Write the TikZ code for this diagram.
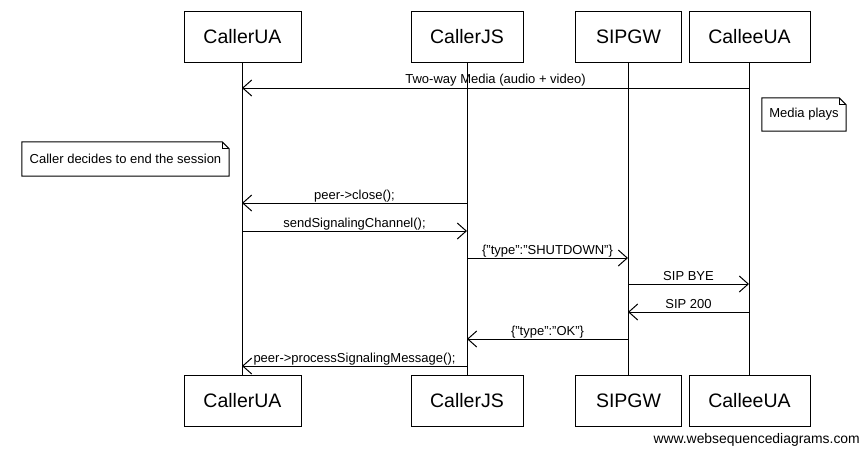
\documentclass[tikz,border=0pt]{standalone}
\usepackage{fontspec}
\setmainfont{Liberation Sans}
\usetikzlibrary{arrows.meta}
\tikzset{
  x=1pt, y=-1pt,
  pbox/.style={draw, line width=1pt, minimum height=51pt, inner sep=0pt,
    font=\fontsize{19.5}{23}\selectfont},
  life/.style={line width=1pt},
  msg/.style={line width=1pt, -{Straight Barb[length=9pt,width=16pt]}},
  lbl/.style={anchor=base, yshift=4pt, inner sep=0pt, font=\fontsize{13}{15}\selectfont},
  notetext/.style={inner sep=0pt, font=\fontsize{13}{15}\selectfont},
  notebox/.style={line width=1pt},
}
\begin{document}
\begin{tikzpicture}
\useasboundingbox[fill=white] (0,0) rectangle (865,448);
% participants top
\node[pbox, minimum width=117pt] (uaT) at (242.5,36.5) {CallerUA};
\node[pbox, minimum width=112pt] (jsT) at (467,36.5) {CallerJS};
\node[pbox, minimum width=106pt] (gwT) at (628.5,36.5) {SIPGW};
\node[pbox, minimum width=121pt] (ceT) at (749.5,36.5) {CalleeUA};
% participants bottom
\node[pbox, minimum width=117pt] (uaB) at (242.5,400.5) {CallerUA};
\node[pbox, minimum width=112pt] (jsB) at (467,400.5) {CallerJS};
\node[pbox, minimum width=106pt] (gwB) at (628.5,400.5) {SIPGW};
\node[pbox, minimum width=121pt] (ceB) at (749.5,400.5) {CalleeUA};
% lifelines
\coordinate (uaL1) at (242,62); \coordinate (uaL2) at (242,375);
\coordinate (jsL1) at (467,62); \coordinate (jsL2) at (467,375);
\coordinate (gwL1) at (628,62); \coordinate (gwL2) at (628,375);
\coordinate (ceL1) at (749,62); \coordinate (ceL2) at (749,375);
\draw[life] (uaL1) -- (uaL2);
\draw[life] (jsL1) -- (jsL2);
\draw[life] (gwL1) -- (gwL2);
\draw[life] (ceL1) -- (ceL2);
% message end points
\coordinate (m1s) at (749,88);  \coordinate (m1e) at (242,88);
\coordinate (m2s) at (467,203); \coordinate (m2e) at (242,203);
\coordinate (m3s) at (242,231); \coordinate (m3e) at (467,231);
\coordinate (m4s) at (467,258); \coordinate (m4e) at (628,258);
\coordinate (m5s) at (628,284); \coordinate (m5e) at (749,284);
\coordinate (m6s) at (749,312); \coordinate (m6e) at (628,312);
\coordinate (m7s) at (628,339); \coordinate (m7e) at (467,339);
\coordinate (m8s) at (467,366); \coordinate (m8e) at (242,366);
\draw[msg] (m1s) -- node[lbl, yshift=1pt] (l1) {Two-way Media (audio + video)} (m1e);
\draw[msg] (m2s) -- node[lbl] (l2) {peer->close();} (m2e);
\draw[msg] (m3s) -- node[lbl] (l3) {sendSignalingChannel();} (m3e);
\draw[msg] (m4s) -- node[lbl] (l4) {\{"type":"SHUTDOWN"\}} (m4e);
\draw[msg] (m5s) -- node[lbl] (l5) {SIP BYE} (m5e);
\draw[msg] (m6s) -- node[lbl] (l6) {SIP 200} (m6e);
\draw[msg] (m7s) -- node[lbl] (l7) {\{"type":"OK"\}} (m7e);
\draw[msg] (m8s) -- node[lbl] (l8) {peer->processSignalingMessage();} (m8e);
% notes
\node[notetext, minimum width=84pt, minimum height=33pt] (n1) at (804,114.5) {Media plays};
\draw[notebox] (n1.north west) -- ([xshift=-7pt]n1.north east) -- ([yshift=-7pt]n1.north east) -- (n1.south east) -- (n1.south west) -- cycle;
\draw[notebox] ([xshift=-7pt]n1.north east) -- ([xshift=-7pt,yshift=-7pt]n1.north east) -- ([yshift=-7pt]n1.north east);
\node[notetext, minimum width=207pt, minimum height=34pt] (n2) at (125.5,159) {Caller decides to end the session};
\draw[notebox] (n2.north west) -- ([xshift=-7pt]n2.north east) -- ([yshift=-7pt]n2.north east) -- (n2.south east) -- (n2.south west) -- cycle;
\draw[notebox] ([xshift=-7pt]n2.north east) -- ([xshift=-7pt,yshift=-7pt]n2.north east) -- ([yshift=-7pt]n2.north east);
% watermark
\node[anchor=east, inner sep=0pt, font=\fontsize{13.9}{16}\selectfont] (wm) at (860,440) {www.websequencediagrams.com};
\end{tikzpicture}
\end{document}
